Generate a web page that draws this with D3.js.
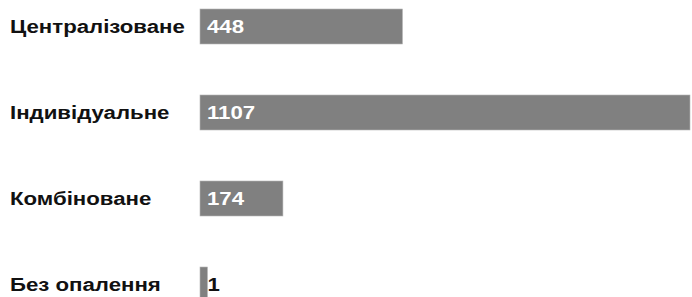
<!DOCTYPE html>
<html>
<head>
<meta charset="utf-8">
<script src="https://cdn.jsdelivr.net/npm/d3@7"></script>
<style>
  body { margin: 0; background: #fff; }
  text { font-family: "Liberation Sans", Arial, sans-serif; font-weight: bold; }
</style>
</head>
<body>
<div id="chart"></div>
<script>
categories = ["Централізоване", "Індивідуальне", "Комбіноване", "Без опалення"]
values = [448, 1107, 174, 1]

width = 692
height = 297
barStart = 200   // bars begin a little left of the zero point
zeroX = 207
right = 2
barHeight = 35
step = 86
top0 = 9
stretch = 1.17   // text in the picture is a bit wide

x = d3.scaleLinear().domain([0, d3.max(values)]).range([zeroX, width - right])
y = d3.scaleBand().domain(categories)
  .range([top0, top0 + step * (categories.length - 1) + barHeight])
  .paddingInner((step - barHeight) / step).paddingOuter(0)

data = categories.map(function(c, i) { return { cat: c, value: values[i] } })

barW = function(d) { return x(d.value) - barStart }

svg = d3.select("#chart").append("svg")
  .attr("width", width)
  .attr("height", height)

svg.selectAll(".bar")
  .data(data).enter()
  .append("rect")
  .attr("class", "bar")
  .attr("x", barStart)
  .attr("y", function(d) { return y(d.cat) })
  .attr("width", barW)
  .attr("height", y.bandwidth())
  .attr("fill", "#808080")
  .attr("stroke", "#b4b4b4")
  .attr("stroke-width", 0.6)

svg.selectAll(".cat")
  .data(data).enter()
  .append("text")
  .attr("class", "cat")
  .attr("transform", function(d) {
    return "translate(10," + (y(d.cat) + y.bandwidth() / 2) + ") scale(" + stretch + ",1)"
  })
  .attr("dy", "0.36em")
  .attr("font-size", 19)
  .attr("fill", "#111")
  .text(function(d) { return d.cat })

svg.selectAll(".val")
  .data(data).enter()
  .append("text")
  .attr("class", "val")
  .attr("transform", function(d) {
    w = barW(d)
    xx = w > 40 ? barStart + 7 : barStart + w
    return "translate(" + xx + "," + (y(d.cat) + y.bandwidth() / 2) + ") scale(" + stretch + ",1)"
  })
  .attr("dy", "0.36em")
  .attr("font-size", 19)
  .attr("fill", function(d) { return barW(d) > 40 ? "#fff" : "#111" })
  .text(function(d) { return d.value })
</script>
</body>
</html>
